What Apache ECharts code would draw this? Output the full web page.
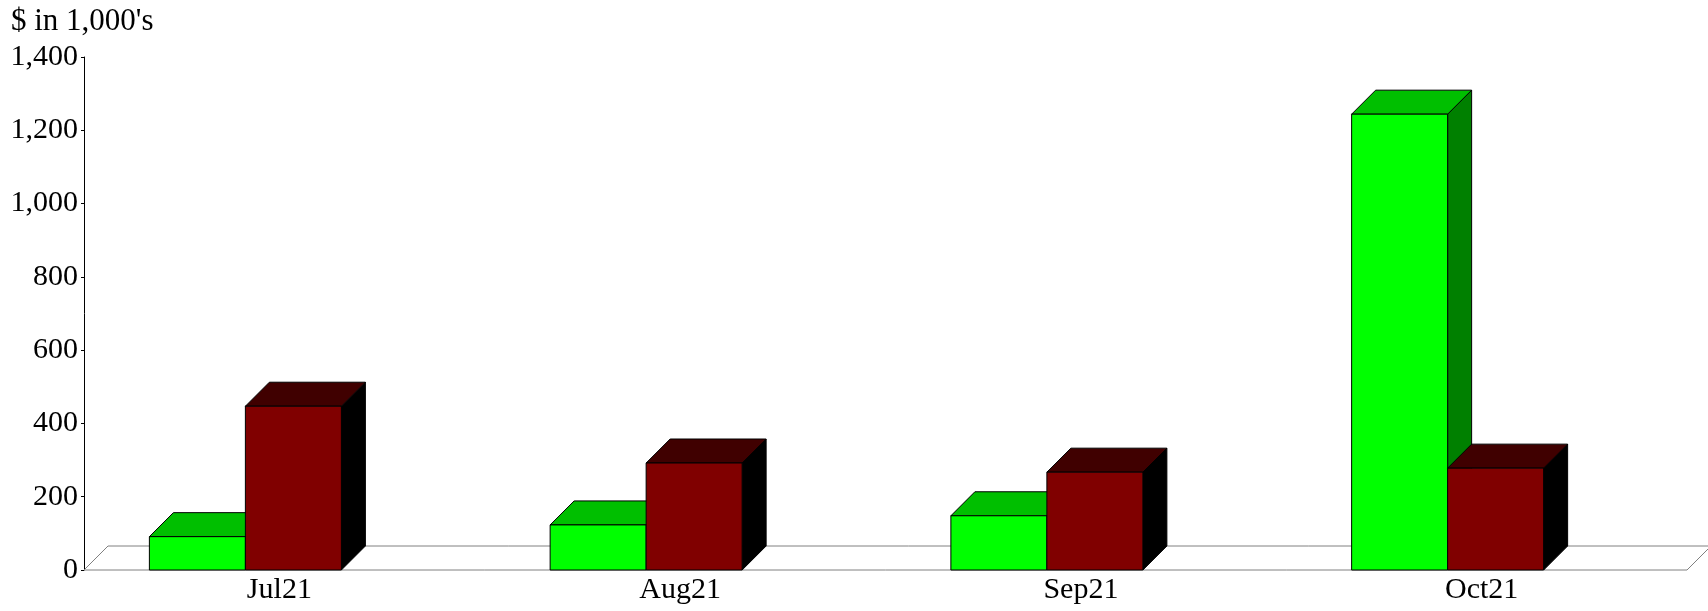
<!DOCTYPE html>
<html>
<head>
<meta charset="utf-8">
<script src="https://cdn.jsdelivr.net/npm/echarts@6/dist/echarts.min.js"></script>
<style>
  html, body { margin: 0; padding: 0; background: #fff; }
  #chart { width: 1708px; height: 611px; }
</style>
</head>
<body>
<div id="chart"></div>
<script>
// Monthly values, $ in 1,000's
const months = ['Jul21', 'Aug21', 'Sep21', 'Oct21'];
const greenValues = [91, 123, 148, 1244];
const redValues = [447, 292, 267, 278];

const FONT = '"Liberation Serif", "Times New Roman", serif';
const DX = 24;          // depth offset to the right
const DY = 24;          // depth offset upwards
const BAR_W = 96;       // front face width of each bar
const GROUP_SHIFT = -39; // pair of bars sits left of the band centre

const GREEN = { front: '#00ff00', top: '#00bf00', side: '#008000' };
const RED = { front: '#800000', top: '#400000', side: '#000000' };

function box(api, value, leftOffset, colors) {
  const i = api.value(0);
  const base = api.coord([i, 0]);
  const top = api.coord([i, value]);
  const x0 = base[0] + GROUP_SHIFT + leftOffset;
  const x1 = x0 + BAR_W;
  const yb = base[1];
  const yt = top[1];
  const edge = { stroke: '#000', lineWidth: 1 };
  return {
    type: 'group',
    children: [
      { type: 'polygon',
        shape: { points: [[x1, yb], [x1 + DX, yb - DY], [x1 + DX, yt - DY], [x1, yt]] },
        style: Object.assign({ fill: colors.side }, edge) },
      { type: 'polygon',
        shape: { points: [[x0, yt], [x0 + DX, yt - DY], [x1 + DX, yt - DY], [x1, yt]] },
        style: Object.assign({ fill: colors.top }, edge) },
      { type: 'rect',
        shape: { x: x0, y: yt, width: BAR_W, height: yb - yt },
        style: Object.assign({ fill: colors.front }, edge) }
    ]
  };
}

const chart = echarts.init(document.getElementById('chart'), null, { renderer: 'canvas' });

chart.setOption({
  animation: false,
  backgroundColor: '#fff',
  textStyle: { fontFamily: FONT },
  graphic: [{
    type: 'text',
    left: 11,
    top: 6,
    style: { text: "$ in 1,000's", font: '31px ' + FONT, fill: '#000' }
  }],
  grid: { left: 84, right: 21, top: 57, bottom: 41, containLabel: false },
  xAxis: {
    type: 'category',
    data: months,
    boundaryGap: true,
    axisLine: { show: false },
    axisTick: { show: false },
    splitLine: { show: false },
    axisLabel: {
      color: '#000', fontSize: 30, fontFamily: FONT,
      margin: 5, padding: [0, 10, 0, 0]
    }
  },
  yAxis: {
    type: 'value',
    min: 0, max: 1400, interval: 200,
    axisLine: { show: true, lineStyle: { color: '#000', width: 1 } },
    axisTick: { show: true, length: 3, lineStyle: { color: '#000' } },
    splitLine: { show: false },
    axisLabel: {
      color: '#000', fontSize: 30, fontFamily: FONT, margin: 6,
      formatter: v => v.toLocaleString('en-US')
    }
  },
  series: [
    {
      // floor plane under the bars
      type: 'custom',
      silent: true,
      clip: false,
      z: 1,
      data: [[0, 0]],
      renderItem: function (params, api) {
        const cs = params.coordSys;
        const yb = cs.y + cs.height;
        return {
          type: 'polygon',
          shape: { points: [[cs.x, yb], [cs.x + cs.width, yb],
                            [cs.x + cs.width + DX, yb - DY], [cs.x + DX, yb - DY]] },
          style: { fill: '#fff', stroke: '#808080', lineWidth: 1 }
        };
      }
    },
    {
      type: 'custom',
      name: 'Green',
      clip: false,
      z: 2,
      data: months.map((m, i) => [i, greenValues[i]]),
      encode: { x: 0, y: 1 },
      renderItem: (params, api) => box(api, api.value(1), -BAR_W, GREEN)
    },
    {
      type: 'custom',
      name: 'Red',
      clip: false,
      z: 3,
      data: months.map((m, i) => [i, redValues[i]]),
      encode: { x: 0, y: 1 },
      renderItem: (params, api) => box(api, api.value(1), 0, RED)
    }
  ]
});
</script>
</body>
</html>
